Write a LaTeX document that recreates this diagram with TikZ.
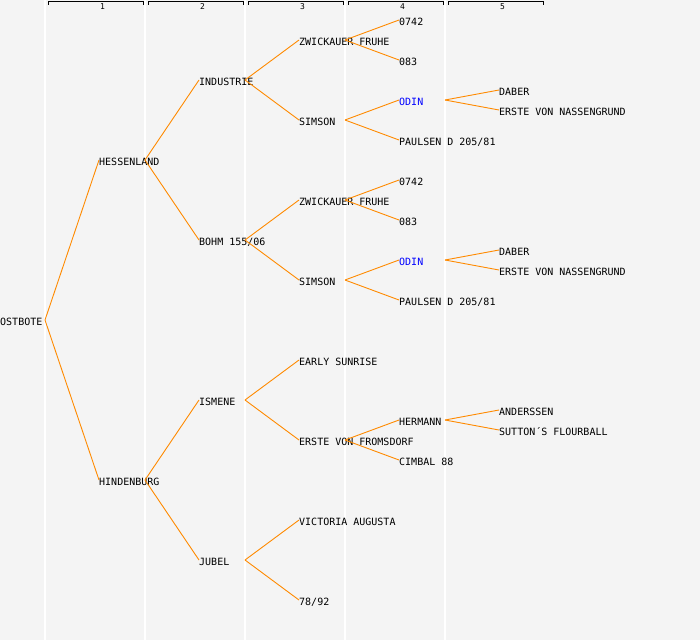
\documentclass[tikz,border=0pt]{standalone}
\usepackage{fontspec}
\setmonofont{DejaVu Sans Mono}
\definecolor{bgray}{HTML}{F4F4F4}
\definecolor{lnorange}{HTML}{FF8A00}
\definecolor{odinblue}{HTML}{0000FF}

\begin{document}
\begin{tikzpicture}[x=1pt,y=-1pt,
    dog/.style={anchor=west,inner sep=0pt,text height=11.4pt,text depth=0pt,
        font=\ttfamily\fontsize{10}{12}\selectfont},
    dogblue/.style={dog,text=odinblue},
    colno/.style={inner sep=0pt,font=\ttfamily\fontsize{8}{10}\selectfont},
    link/.style={draw=lnorange,line width=0.9pt},
    colline/.style={draw=white,line width=1.4pt},
    bracket/.style={draw=black,line width=0.9pt}]
    \fill[bgray] (0,0) rectangle (700,640);
    \useasboundingbox (0,0) rectangle (700,640);

    % columns and header
    \foreach \i in {0,...,4} {
        \coordinate (b\i) at (45+\i*100,0);
        \draw[colline] (b\i) -- (45+\i*100,640);
    }
    \foreach \i in {1,...,5} {
        \draw[bracket] (\i*100-52,4.5) -- (\i*100-52,1.5) -- (\i*100+43,1.5) -- (\i*100+43,4.5);
        \node[colno] (h\i) at (\i*100+2.5,6.2) {\i};
    }

    % generation 0 and 1
    \node[dog] (ost) at (0,320) {OSTBOTE};
    \node[dog] (hes) at (99,160) {HESSENLAND};
    \node[dog] (hin) at (99,480) {HINDENBURG};

    % generation 2
    \node[dog] (ind) at (199,80) {INDUSTRIE};
    \node[dog] (boh) at (199,240) {BOHM 155/06};
    \node[dog] (ism) at (199,400) {ISMENE};
    \node[dog] (jub) at (199,560) {JUBEL};

    % generation 3
    \node[dog] (zw1) at (299,40) {ZWICKAUER FRUHE};
    \node[dog] (si1) at (299,120) {SIMSON};
    \node[dog] (zw2) at (299,200) {ZWICKAUER FRUHE};
    \node[dog] (si2) at (299,280) {SIMSON};
    \node[dog] (ear) at (299,360) {EARLY SUNRISE};
    \node[dog] (efr) at (299,440) {ERSTE VON FROMSDORF};
    \node[dog] (vic) at (299,520) {VICTORIA AUGUSTA};
    \node[dog] (n78) at (299,600) {78/92};

    % generation 4
    \node[dog] (a1) at (399,20) {0742};
    \node[dog] (c1) at (399,60) {083};
    \node[dogblue] (od1) at (399,100) {ODIN};
    \node[dog] (pa1) at (399,140) {PAULSEN D 205/81};
    \node[dog] (a2) at (399,180) {0742};
    \node[dog] (c2) at (399,220) {083};
    \node[dogblue] (od2) at (399,260) {ODIN};
    \node[dog] (pa2) at (399,300) {PAULSEN D 205/81};
    \node[dog] (her) at (399,420) {HERMANN};
    \node[dog] (cim) at (399,460) {CIMBAL 88};

    % generation 5
    \node[dog] (da1) at (499,90) {DABER};
    \node[dog] (en1) at (499,110) {ERSTE VON NASSENGRUND};
    \node[dog] (da2) at (499,250) {DABER};
    \node[dog] (en2) at (499,270) {ERSTE VON NASSENGRUND};
    \node[dog] (and) at (499,410) {ANDERSSEN};
    \node[dog] (sut) at (499,430) {SUTTON´S FLOURBALL};

    \foreach \p/\b/\c in {ost/b0/hes, ost/b0/hin,
        hes/b1/ind, hes/b1/boh, hin/b1/ism, hin/b1/jub,
        ind/b2/zw1, ind/b2/si1, boh/b2/zw2, boh/b2/si2,
        ism/b2/ear, ism/b2/efr, jub/b2/vic, jub/b2/n78,
        zw1/b3/a1, zw1/b3/c1, si1/b3/od1, si1/b3/pa1,
        zw2/b3/a2, zw2/b3/c2, si2/b3/od2, si2/b3/pa2,
        efr/b3/her, efr/b3/cim,
        od1/b4/da1, od1/b4/en1, od2/b4/da2, od2/b4/en2,
        her/b4/and, her/b4/sut}
        \draw[link] (\p.west -| \b) -- (\c.west);
\end{tikzpicture}
\end{document}
